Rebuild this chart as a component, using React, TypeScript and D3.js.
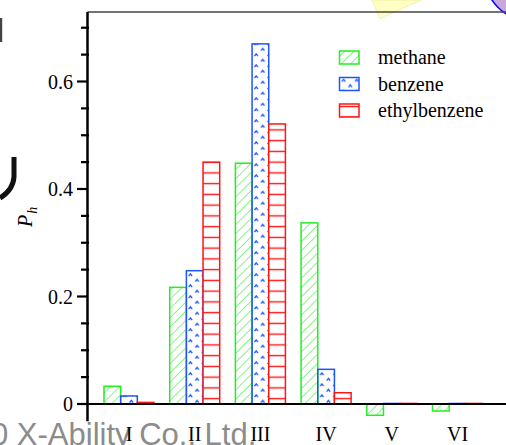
import React from "react";
import * as d3 from "d3";

const categories = ["I", "II", "III", "IV", "V", "VI"];
const seriesNames = ["methane", "benzene", "ethylbenzene"];
const methane = [0.033, 0.217, 0.448, 0.337, -0.021, -0.013];
const benzene = [0.015, 0.248, 0.670, 0.0645, 0.001, 0.001];
const ethylbenzene = [0.003, 0.450, 0.521, 0.021, 0.001, 0.001];
const yMajorTicks = [0, 0.2, 0.4, 0.6];
const yMinorTicks = [0.05, 0.1, 0.15, 0.25, 0.3, 0.35, 0.45, 0.5, 0.55, 0.65, 0.7];
const yTickFormat = (v: number) => (v === 0 ? "0" : d3.format(".1f")(v));
const watermark = "0 X-Ability Co., Ltd.";

const W = 506;
const H = 445;
const GREEN = "#22ee22";
const BLUE = "#1f55ff";
const RED = "#ff1414";
const SERIF = "'Liberation Serif', 'Times New Roman', serif";

export default function App() {
  const y = d3.scaleLinear().domain([0, 0.7]).range([404, 27.75]);
  const xC = d3.scalePoint<string>().domain(categories).range([129, 457.5]);
  const xS = d3.scaleBand<string>().domain(seriesNames).range([-25, 25]);
  const bw = xS.bandwidth();
  const axisX = 87.5;
  const axisTop = 12;
  const axisBottom = y(-0.032);

  const seriesData = [methane, benzene, ethylbenzene];
  const fills = ["url(#hatchG)", "", "url(#hatchR)"];
  const strokes = [GREEN, BLUE, RED];
  const caret = "M2.4,4.2 L4.1,1.8 L5.8,4.2 M9,9.7 L10.7,7.3 L12.4,9.7";

  const bars: any[] = [];
  const benzPatterns: any[] = [];
  categories.forEach((c, ci) => {
    seriesNames.forEach((s, si) => {
      const v = seriesData[si][ci];
      const bx = (xC(c) as number) + (xS(s) as number);
      const y0 = y(0);
      const y1 = y(v);
      let fill = fills[si];
      if (si === 1) {
        const id = `benz${ci}`;
        benzPatterns.push(
          <pattern key={id} id={id} patternUnits="userSpaceOnUse" x={bx} y={y0} width={13.2} height={11}>
            <path d={caret} fill="none" stroke={BLUE} strokeWidth={1.3} />
          </pattern>
        );
        fill = `url(#${id})`;
      }
      bars.push(
        <rect
          key={`${c}-${s}`}
          x={bx}
          y={Math.min(y0, y1)}
          width={bw}
          height={Math.abs(y1 - y0)}
          fill={fill}
          stroke={strokes[si]}
          strokeWidth={1.5}
        />
      );
    });
  });

  const legendX = 339.5;
  const legendY0 = 51;
  const legendStep = 26.5;

  return (
    <svg width={W} height={H} style={{ position: "absolute", left: 0, top: 0, background: "#fff" }}>
      <defs>
        <pattern id="hatchG" patternUnits="userSpaceOnUse" width={6.5} height={6.5} patternTransform="rotate(45)">
          <line x1={0} y1={0} x2={0} y2={6.5} stroke={GREEN} strokeWidth={1.1} />
        </pattern>
        <pattern id="hatchR" patternUnits="userSpaceOnUse" x={0} y={y(0)} width={10} height={10.75}>
          <rect width={10} height={10.75} fill="#fff" />
          <line x1={0} y1={5.4} x2={10} y2={5.4} stroke={RED} strokeWidth={1.4} />
        </pattern>
        <pattern id="legRed" patternUnits="userSpaceOnUse" x={legendX} y={legendY0 + 2 * legendStep} width={10} height={10.75}>
          <rect width={10} height={10.75} fill="#fff" />
          <line x1={0} y1={2.5} x2={10} y2={2.5} stroke={RED} strokeWidth={1.4} />
        </pattern>
        <pattern id="legBenz" patternUnits="userSpaceOnUse" x={legendX} y={legendY0 + legendStep} width={13.2} height={11}>
          <path d={caret} fill="none" stroke={BLUE} strokeWidth={1.3} />
        </pattern>
        {benzPatterns}
      </defs>

      {/* decorative remnants of neighbouring figure */}
      <polygon points="372,0 380,18.5 421,0" fill="#ffffc4" stroke="#f4f0a8" strokeWidth={1} />
      <circle cx={530} cy={-25} r={45.5} fill="#c9a9dc" stroke="#0000ff" strokeWidth={1.5} />
      <rect x={0} y={18} width={2.2} height={24} fill="#444" />
      <path d="M14,157 L14,177 Q13,190 0,198" fill="none" stroke="#111" strokeWidth={5} />

      {/* watermark */}
      <text x={-9} y={444.5} fontFamily="'Liberation Sans', Arial, sans-serif" fontSize={31} fill="#808080" opacity={0.9}>
        {watermark}
      </text>

      {/* top frame line */}
      <line x1={axisX} y1={axisTop} x2={W} y2={axisTop} stroke="#444" strokeWidth={1.5} />

      {/* bars */}
      {bars}

      {/* zero line */}
      <line x1={axisX} y1={y(0)} x2={W} y2={y(0)} stroke="#000" strokeWidth={2} />

      {/* y axis */}
      <line x1={axisX} y1={axisTop} x2={axisX} y2={axisBottom} stroke="#000" strokeWidth={2.5} />
      {yMajorTicks.map((t) => (
        <g key={`M${t}`}>
          <line x1={77} y1={y(t)} x2={axisX} y2={y(t)} stroke="#000" strokeWidth={2.2} />
          <text x={73} y={y(t)} dy="0.35em" textAnchor="end" fontFamily={SERIF} fontSize={20} fill="#000">
            {yTickFormat(t)}
          </text>
        </g>
      ))}
      {yMinorTicks.map((t) => (
        <line key={`m${t}`} x1={81} y1={y(t)} x2={89} y2={y(t)} stroke="#000" strokeWidth={2.2} />
      ))}

      {/* y label */}
      <text transform="translate(32,227) rotate(-90)" fontFamily={SERIF} fontSize={20} fontStyle="italic" fill="#000">
        P
        <tspan fontSize={14} dy={5} dx={1}>h</tspan>
      </text>

      {/* x labels */}
      {categories.map((c) => (
        <text key={c} x={xC(c) as number} y={441} textAnchor="middle" fontFamily={SERIF} fontSize={20} fill="#000">
          {c}
        </text>
      ))}

      {/* legend */}
      {seriesNames.map((s, i) => (
        <g key={s}>
          <rect
            x={legendX}
            y={legendY0 + i * legendStep}
            width={19.5}
            height={13}
            fill={i === 0 ? "url(#hatchG)" : i === 1 ? "url(#legBenz)" : "url(#legRed)"}
            stroke={strokes[i]}
            strokeWidth={1.5}
          />
          <text x={378} y={legendY0 + i * legendStep + 13} fontFamily={SERIF} fontSize={20} fill="#000">
            {s}
          </text>
        </g>
      ))}
    </svg>
  );
}
